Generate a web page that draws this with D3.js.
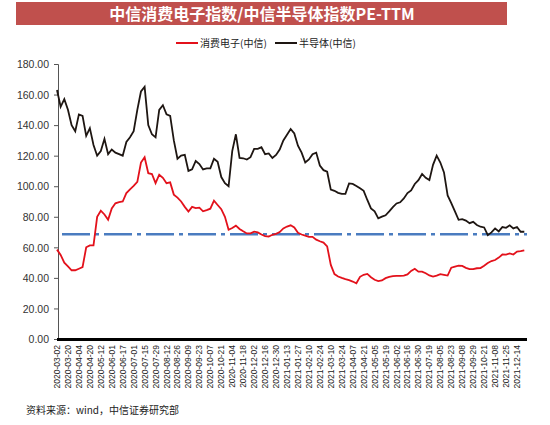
<!DOCTYPE html>
<html lang="zh">
<head>
<meta charset="utf-8">
<title>PE-TTM</title>
<script type="text/javascript" src="https://d3js.org/d3.v7.min.js"></script>
<style>
body { margin: 0; background: #fff; }
text { font-family: "Noto Sans CJK SC", "Liberation Sans", sans-serif; }
.ylab { font-family: "Liberation Sans", Arial, sans-serif; font-size: 10.5px; fill: #333; }
.xlab { font-family: "Liberation Sans", Arial, sans-serif; font-size: 8.5px; fill: #222; }
.leg { font-size: 10px; fill: #222; }
</style>
</head>
<body>
<div id="container"></div>
<script type="text/javascript">
// tick labels on the category axis (one every 3 samples)
var tickLabels = ["2020-03-02","2020-03-20","2020-04-04","2020-04-20","2020-05-12","2020-06-01","2020-06-17",
  "2020-07-01","2020-07-15","2020-07-29","2020-08-12","2020-08-26","2020-09-09","2020-09-23","2020-10-07",
  "2020-10-21","2020-11-04","2020-11-18","2020-12-02","2020-12-16","2020-12-30","2021-01-13","2021-01-27",
  "2021-02-10","2021-02-24","2021-03-10","2021-03-24","2021-04-07","2021-04-21","2021-05-05","2021-05-19",
  "2021-06-02","2021-06-16","2021-06-30","2021-07-19","2021-08-05","2021-08-23","2021-09-08","2021-09-29",
  "2021-10-21","2021-11-08","2021-11-25","2021-12-14"];

// 消费电子(中信) PE-TTM
var consumer = [58.5,55,50,47.5,45,45,46,47,60,61.3,61.3,80,84,81.5,78,85.5,88.8,89.6,90,95.5,
  98,100.2,102.8,115.5,119,108.5,108,102,107.5,105.5,102,102.5,94.5,92.5,90,86.5,83.4,86.5,85.7,86,
  83.6,84.4,85.3,90.5,87.7,85,80,71.5,72.7,74.2,72,70.5,69.1,69.2,70.3,69.8,68.4,67.4,67.1,68.2,
  68.8,70,72.4,73.6,74.4,73,69.5,68.4,67.6,66.9,66.9,65,64,63.1,60.6,48.5,42.5,40.9,40,39.2,
  38.5,37.6,36.5,40.7,42,42.6,40.4,38.8,37.9,38.3,39.8,40.6,41.1,41.3,41.3,41.5,42.3,44.6,46,44.1,
  44.1,43,41.6,40.9,41.5,42.5,42,41.5,46.7,47.4,48,47.8,46.6,45.7,45.7,46.3,46.4,48,49.7,51,
  51.7,53.3,55.3,55.2,56,55.3,57.2,57.5,58];

// 半导体(中信) PE-TTM
var semi = [163,152,157,150,140,136,147,146,133,138,127,120,123,131,121,124,122,121,120,129,
  132,136,150,162,165,140,134,132,150,153,147,146,130,118,120,120.5,110,111,116.5,114.5,
  111,111.7,111.7,118,116,106,102,100,123,134,118.5,118.3,117.5,119,124.5,124.5,125.5,121,121.5,118.5,
  120.5,124,130,133.7,137.5,134.5,126.5,122,115.5,117.5,121,122,113.5,110.5,109.5,97.8,97,95.7,95,95,
  101.8,101.5,100.2,98.6,97,91,85.5,83.5,79,80.1,81,83.5,86.3,88.7,89.5,92,95.5,97.3,101.5,104,
  108,105.5,104,114,120,115.5,109,94,89,83.5,78,78.5,77.5,75.8,76.7,74.6,73.5,73,68,69.8,
  72.4,70.4,73.3,72.8,74.4,72.4,73.3,70.2,70.2];

var refLevel = 68.5;
var yTicks = [0,20,40,60,80,100,120,140,160,180];

var w = 550, h = 425;
var svg = d3.select("div#container").append("svg")
  .attr("width", w).attr("height", h);

// title bar
svg.append("rect").attr("x", 16).attr("y", 2).attr("width", 491).attr("height", 23)
  .attr("fill", "#c0504d");
svg.append("text").attr("x", 262).attr("y", 19.5).attr("text-anchor", "middle")
  .style("font-size", "16px").style("font-weight", "bold").attr("fill", "#fff")
  .text("中信消费电子指数/中信半导体指数PE-TTM");

var x = d3.scaleLinear().domain([0, (tickLabels.length - 1) * 3]).range([57, 517]);
var y = d3.scaleLinear().domain([0, 180]).range([339, 64]);

// y axis
var yAxis = svg.append("g").attr("transform", "translate(58,0)")
  .call(d3.axisLeft(y).tickValues(yTicks).tickSize(4).tickFormat(d3.format(".2f")));
yAxis.select(".domain").attr("stroke", "#555");
yAxis.selectAll(".tick line").attr("stroke", "#555");
yAxis.selectAll("text").attr("class", "ylab").attr("x", -9).attr("dy", "0.35em");

// x axis labels
var xg = svg.append("g");
xg.selectAll("text").data(tickLabels).enter().append("text")
  .attr("class", "xlab")
  .attr("transform", function(d, i) { return "translate(" + (x(i * 3) + 3) + ",345) rotate(-90)"; })
  .attr("text-anchor", "end")
  .text(function(d) { return d; });

// reference line
svg.append("line")
  .attr("x1", 62).attr("x2", 527).attr("y1", y(refLevel)).attr("y2", y(refLevel))
  .attr("stroke", "#4a7cc0").attr("stroke-width", 2.5)
  .attr("stroke-dasharray", "28,5,4,5");

var line = d3.line().x(function(d, i) { return x(i); }).y(function(d) { return y(d); });

svg.append("path").datum(semi).attr("d", line)
  .attr("fill", "none").attr("stroke", "#1e1612").attr("stroke-width", 1.8);
svg.append("path").datum(consumer).attr("d", line)
  .attr("fill", "none").attr("stroke", "#e3111b").attr("stroke-width", 1.8);

// x axis baseline
svg.append("line").attr("x1", 57).attr("x2", 527).attr("y1", 339.5).attr("y2", 339.5)
  .attr("stroke", "#000").attr("stroke-width", 3);

// legend
var legend = [{name: "消费电子(中信)", color: "#e3111b", x: 176}, {name: "半导体(中信)", color: "#1e1612", x: 275}];
var lg = svg.selectAll(".lg").data(legend).enter().append("g");
lg.append("line").attr("x1", function(d) { return d.x; }).attr("x2", function(d) { return d.x + 22; })
  .attr("y1", 43).attr("y2", 43).attr("stroke", function(d) { return d.color; }).attr("stroke-width", 2);
lg.append("text").attr("class", "leg").attr("x", function(d) { return d.x + 24; }).attr("y", 46.5)
  .text(function(d) { return d.name; });

// source
svg.append("text").attr("x", 26).attr("y", 414).style("font-size", "10px").attr("fill", "#222")
  .text("资料来源：wind，中信证券研究部");
</script>
</body>
</html>
